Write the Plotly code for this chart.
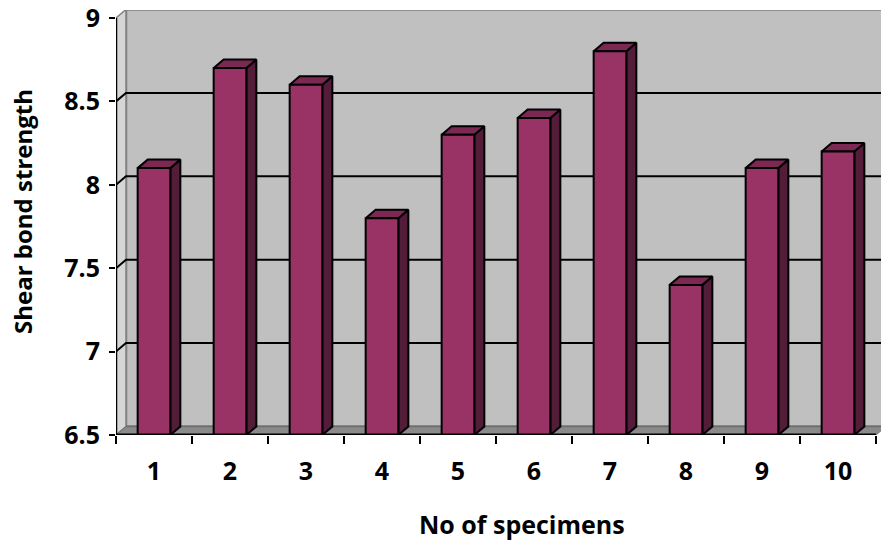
import plotly.graph_objects as go

categories = ["1", "2", "3", "4", "5", "6", "7", "8", "9", "10"]
values = [8.1, 8.7, 8.6, 7.8, 8.3, 8.4, 8.8, 7.4, 8.1, 8.2]
y_ticks = [6.5, 7, 7.5, 8, 8.5, 9]
y_title = "Shear bond strength"
x_title = "No of specimens"

# geometry (axis units)
Y0, Y1 = 6.5, 9.0
X0, X1 = 0.5, len(categories) + 0.5
PX_PER_X = 76.0
PX_PER_Y = 166.8
DX = 10 / PX_PER_X
DY = 8.5 / PX_PER_Y
HW = 0.215
L, R, T, B = 116, 0, 10, 114
W, H = 881, 549
xmax = X0 + (W - L - R) / PX_PER_X
ymax = Y0 + (H - T - B) / PX_PER_Y

FAMILY = "'Open Sans', sans-serif"
TICK_FONT = dict(family=FAMILY, size=25, color="black", weight="bold")
YTITLE_FONT = dict(family=FAMILY, size=24, color="black", weight="bold")
XTITLE_FONT = dict(family=FAMILY, size=25, color="black", weight="bold")

fig = go.Figure()

def poly(xs, ys, fill, line_color, line_width):
    fig.add_trace(go.Scatter(x=xs + [xs[0]], y=ys + [ys[0]], mode="lines", fill="toself",
                             fillcolor=fill, line=dict(color=line_color, width=line_width),
                             hoverinfo="skip", showlegend=False))

def line(xs, ys, color, width):
    fig.add_trace(go.Scatter(x=xs, y=ys, mode="lines", line=dict(color=color, width=width),
                             hoverinfo="skip", showlegend=False))

# back wall
poly([X0 + DX, xmax + 1, xmax + 1, X0 + DX], [Y0 + DY, Y0 + DY, Y1 + DY, Y1 + DY], "#c0c0c0", "#808080", 2.5)
# left wall
poly([X0, X0 + DX, X0 + DX, X0], [Y0, Y0 + DY, Y1 + DY, Y1], "#d6d6d6", "#808080", 1.5)
# floor
poly([X0, X1, X1 + DX, X0 + DX], [Y0, Y0, Y0 + DY, Y0 + DY], "#8a8a8a", "#6e6e6e", 1)
line([X0 + DX, xmax + 1], [Y0 + DY, Y0 + DY], "#6e6e6e", 1.5)

# gridlines
for g in y_ticks[1:-1]:
    line([X0, X0 + DX, xmax + 1], [g, g + DY, g + DY], "black", 2)

# bars (3D)
for i, v in enumerate(values):
    c = i + 1
    poly([c + HW, c + HW + DX, c + HW + DX, c + HW], [Y0, Y0 + DY, v + DY, v], "#531c38", "black", 2)
    poly([c - HW, c - HW + DX, c + HW + DX, c + HW], [v, v + DY, v + DY, v], "#7b2953", "black", 2)
    poly([c - HW, c + HW, c + HW, c - HW], [Y0, Y0, v, v], "#993366", "black", 2)

# axis lines
line([X0, X0], [Y0, Y1], "black", 2.5)
line([X0, X1], [Y0, Y0], "black", 3)

fig.update_layout(
    width=W, height=H,
    margin=dict(l=L, r=R, t=T, b=B),
    paper_bgcolor="white", plot_bgcolor="white",
    font=TICK_FONT,
    xaxis=dict(range=[X0, xmax], tickvals=list(range(1, len(categories) + 1)), ticktext=categories,
               ticks="", showgrid=False, zeroline=False, showline=False,
               ticklabelstandoff=19, tickfont=TICK_FONT, ticklabeloverflow="allow",
               minor=dict(tickvals=[k + 0.5 for k in range(len(categories) + 1)], ticks="outside",
                          ticklen=8, tickwidth=2, tickcolor="black", showgrid=False)),
    yaxis=dict(range=[Y0, ymax], tickvals=y_ticks, ticks="outside", ticklen=6, tickwidth=2,
               tickcolor="black", showgrid=False, zeroline=False, showline=False,
               ticklabelstandoff=4, tickfont=TICK_FONT, ticklabeloverflow="allow"),
    annotations=[
        dict(text=y_title, xref="paper", yref="paper", x=(22 - L) / (W - L - R), y=(H - B - 212) / (H - T - B),
             textangle=-90, showarrow=False, font=YTITLE_FONT, xanchor="center", yanchor="middle"),
        dict(text=x_title, xref="paper", yref="paper", x=(522 - L) / (W - L - R), y=(H - B - 524) / (H - T - B),
             showarrow=False, font=XTITLE_FONT, xanchor="center", yanchor="middle"),
    ],
)

fig.write_html("out.html")
